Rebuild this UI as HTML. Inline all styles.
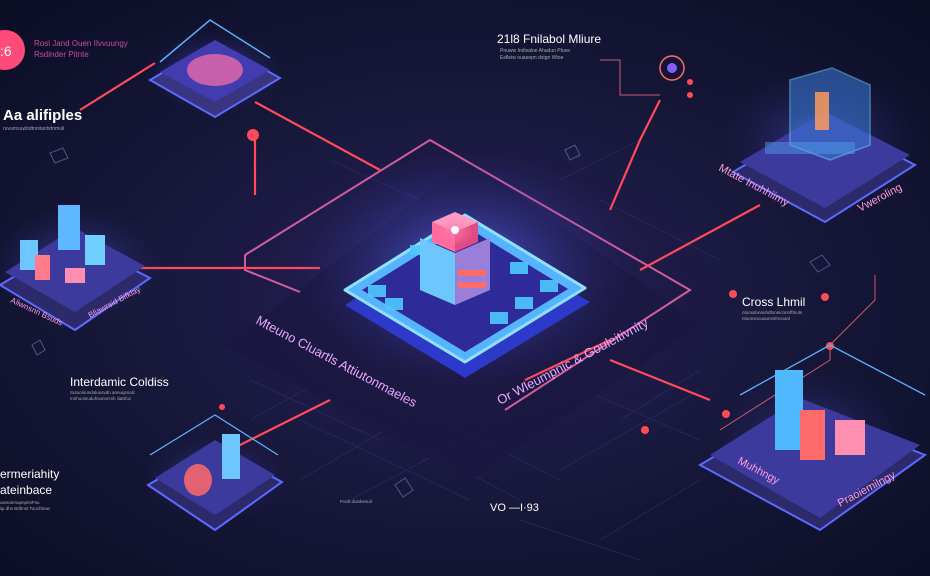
<!DOCTYPE html>
<html><head><meta charset="utf-8"><style>
html,body{margin:0;padding:0;background:#101130;}
svg{display:block;font-family:"Liberation Sans",sans-serif;}
</style></head><body>
<svg width="930" height="576" viewBox="0 0 930 576" xmlns="http://www.w3.org/2000/svg">
<defs>
<radialGradient id="bg" cx="50%" cy="52%" r="70%"><stop offset="0" stop-color="#27205a"/><stop offset="0.55" stop-color="#161738"/><stop offset="1" stop-color="#0c0e26"/></radialGradient>
<radialGradient id="glow" cx="50%" cy="50%" r="50%"><stop offset="0" stop-color="#9aa8ff" stop-opacity="0.9"/><stop offset="0.4" stop-color="#5b63ff" stop-opacity="0.35"/><stop offset="1" stop-color="#3a2f9a" stop-opacity="0"/></radialGradient>
<radialGradient id="pglow" cx="50%" cy="50%" r="50%"><stop offset="0" stop-color="#ff7aa8" stop-opacity="0.8"/><stop offset="1" stop-color="#ff7aa8" stop-opacity="0"/></radialGradient>
</defs>
<rect width="930" height="576" fill="url(#bg)"/>
<g stroke="#2d2f6e" stroke-width="1" opacity="0.6">
<path d="M300 420 L470 500 M330 400 L520 500 M360 380 L560 480 M560 380 L700 440 M250 380 L380 440 M600 200 L720 260 M330 160 L420 200 M520 520 L640 560 M270 330 L350 370"/>
<path d="M300 480 L470 380 M350 500 L520 410 M560 470 L700 390 M250 420 L340 370 M620 420 L700 370 M560 180 L640 140 M600 540 L700 480"/>
</g>
<polygon points="225,345 470,160 700,325 470,480" fill="#1a1840" opacity="0.8"/>
<path d="M245 255 L430 140 L690 290 L505 410" fill="none" stroke="#ff6fb3" stroke-width="2" opacity="0.8"/>
<path d="M245 255 L245 270 L300 292" fill="none" stroke="#ff6fb3" stroke-width="2" opacity="0.8"/>
<g stroke="#ff4a5a" stroke-width="2.2" fill="none">
<path d="M80 110 L155 63"/>
<path d="M255 102 L380 170"/>
<path d="M130 268 L320 268"/>
<path d="M230 450 L330 400"/>
<path d="M610 210 L640 140 L660 100"/>
<path d="M640 270 L760 205"/>
<path d="M610 360 L710 400"/>
<path d="M525 380 L610 340"/>
<path d="M255 135 L255 195"/>
</g>
<g stroke="#ff6a78" stroke-width="1" fill="none" opacity="0.8">
<path d="M600 60 L620 60 L620 95 L660 95"/>
<path d="M830 345 L875 300 L875 275"/>
<path d="M830 345 L830 360 L720 430"/>
</g>
<g fill="#ff4a5a">
<circle cx="253" cy="135" r="6"/><circle cx="825" cy="297" r="4"/><circle cx="830" cy="346" r="4"/>
<circle cx="733" cy="294" r="4"/><circle cx="726" cy="414" r="4"/><circle cx="645" cy="430" r="4"/>
<circle cx="222" cy="407" r="3"/><circle cx="690" cy="82" r="3"/><circle cx="690" cy="95" r="3"/>
</g>
<ellipse cx="465" cy="270" rx="170" ry="120" fill="url(#glow)"/>
<polygon points="345,305 465,230 590,302 465,378" fill="#2d39c8"/>
<polygon points="345,290 465,215 585,288 465,362" fill="#56b3ff" stroke="#8fe1ff" stroke-width="3" stroke-linejoin="round"/>
<polygon points="362,290 465,226 568,289 465,352" fill="#2f2a9a"/>
<g fill="#4fc9ff" opacity="0.9">
<rect x="368" y="285" width="18" height="12"/><rect x="385" y="298" width="18" height="12"/>
<rect x="510" y="262" width="18" height="12"/><rect x="540" y="280" width="18" height="12"/>
<rect x="515" y="297" width="18" height="12"/><rect x="490" y="312" width="18" height="12"/>
<rect x="410" y="245" width="14" height="10"/>
</g>
<polygon points="420,238 455,253 455,305 420,290" fill="#6ec6ff"/>
<polygon points="455,253 490,238 490,290 455,305" fill="#9a7fd8"/>
<rect x="458" y="270" width="28" height="6" fill="#ff6a6a"/><rect x="458" y="282" width="28" height="6" fill="#ff6a6a"/>
<polygon points="432,222 455,232 455,252 432,242" fill="#ff6b9b"/>
<polygon points="455,232 478,222 478,242 455,252" fill="#e04a83"/>
<polygon points="432,222 455,212 478,222 455,232" fill="#ff9ac0"/>
<ellipse cx="455" cy="232" rx="18" ry="14" fill="url(#pglow)"/>
<circle cx="455" cy="230" r="4" fill="#fff"/>
<text x="255" y="323" fill="#e8a8ff" font-size="13" transform="rotate(28 255 323)">Mteuno Cluartls Attiutonmaeles</text>
<text x="500" y="405" fill="#e8a8ff" font-size="13" transform="rotate(-28 500 405)">Or Wleumpnic &amp; Gouleitivnity</text>
<ellipse cx="215" cy="72" rx="70" ry="42" fill="url(#glow)" opacity="0.7"/>
<polygon points="150,80 215,42 280,78 215,117" fill="#3a3580" stroke="#5c6aff" stroke-width="2"/>
<polygon points="160,72 215,40 270,70 215,102" fill="#433cb0"/>
<ellipse cx="215" cy="70" rx="28" ry="16" fill="#ff6fa8" opacity="0.7"/>
<path d="M160 62 L210 20 L270 58" fill="none" stroke="#5ab0ff" stroke-width="1.5"/>
<ellipse cx="75" cy="265" rx="90" ry="60" fill="url(#glow)" opacity="0.6"/>
<polygon points="0,285 75,240 150,278 75,330" fill="#2c2a6a" stroke="#5c6aff" stroke-width="2"/>
<polygon points="5,272 75,228 145,266 75,312" fill="#3d3a9e"/>
<rect x="58" y="205" width="22" height="45" fill="#5fb8ff"/><rect x="20" y="240" width="18" height="30" fill="#6ec6ff"/>
<rect x="35" y="255" width="15" height="25" fill="#ff7a8a"/><rect x="85" y="235" width="20" height="30" fill="#6fd0ff"/>
<rect x="65" y="268" width="20" height="15" fill="#ff8fb0"/>
<text x="10" y="302" fill="#ff9ce0" font-size="8" transform="rotate(25 10 302)">Aliwnsnn Bsuds</text>
<text x="90" y="318" fill="#ff9ce0" font-size="8" transform="rotate(-28 90 318)">Bliawrsid Bifklay</text>
<ellipse cx="215" cy="478" rx="75" ry="45" fill="url(#glow)" opacity="0.5"/>
<polygon points="148,485 215,446 282,482 215,530" fill="#2c2a6a" stroke="#5c6aff" stroke-width="2"/>
<polygon points="155,478 215,440 275,475 215,515" fill="#3d3a9e"/>
<rect x="222" y="434" width="18" height="45" fill="#6ec6ff"/>
<ellipse cx="198" cy="480" rx="14" ry="16" fill="#ff6a6a" opacity="0.85"/>
<path d="M150 455 L215 415 L278 455" fill="none" stroke="#5ab0ff" stroke-width="1.3"/>
<ellipse cx="820" cy="140" rx="100" ry="75" fill="url(#glow)" opacity="0.5"/>
<polygon points="733,172 825,118 915,165 825,222" fill="#2c2a6a" stroke="#5c6aff" stroke-width="2"/>
<polygon points="740,162 825,112 910,155 825,208" fill="#3d3a9e"/>
<polygon points="790,80 832,68 870,85 870,145 830,160 790,145" fill="#3a7ad8" opacity="0.55" stroke="#6fd0ff" stroke-width="1.5"/>
<rect x="815" y="92" width="14" height="38" fill="#ff9a5a" opacity="0.85"/>
<rect x="765" y="142" width="90" height="12" fill="#4f9ae8" opacity="0.5"/>
<text x="718" y="170" fill="#ff9ce0" font-size="11" transform="rotate(28 718 170)">Mtate Inuhhiimy</text>
<text x="860" y="212" fill="#ff9ce0" font-size="11" transform="rotate(-28 860 212)">Vweroling</text>
<ellipse cx="810" cy="445" rx="100" ry="75" fill="url(#glow)" opacity="0.5"/>
<polygon points="700,465 800,405 925,455 820,530" fill="#2c2a6a" stroke="#5c6aff" stroke-width="2"/>
<polygon points="710,455 800,398 920,445 820,518" fill="#3d3a9e"/>
<rect x="775" y="370" width="28" height="80" fill="#4fb8ff"/>
<rect x="800" y="410" width="25" height="50" fill="#ff6a6a"/>
<rect x="835" y="420" width="30" height="35" fill="#ff8fb0"/>
<text x="737" y="463" fill="#ff9ce0" font-size="11" transform="rotate(28 737 463)">Muhhngy</text>
<text x="840" y="507" fill="#ff9ce0" font-size="11" transform="rotate(-28 840 507)">Praoiemilngy</text>
<path d="M740 395 L830 345 L925 395" fill="none" stroke="#5ab0ff" stroke-width="1.3"/>
<circle cx="5" cy="50" r="20" fill="#ff4a7a"/>
<text x="0" y="56" fill="#fff" font-size="14">:6</text>
<text x="34" y="46" fill="#c94aa0" font-size="8">Rosl Jand Ouen IIvvuungy</text>
<text x="34" y="57" fill="#c94aa0" font-size="8">Rsdinder Pitnte</text>
<text x="3" y="120" fill="#fff" font-size="15" font-weight="bold">Aa alifiples</text>
<text x="3" y="130" fill="#9aa0d0" font-size="5">ruvurnsuwbdtnnitanhdnmuli</text>
<text x="497" y="43" fill="#fff" font-size="12">21l8 Fnilabol Mliure</text>
<text x="500" y="52" fill="#aaa" font-size="5">Pnuww Indisaloe Ahudun Ptuve</text>
<text x="500" y="59" fill="#aaa" font-size="5">Esfleiw ouaeepn dstgn Wtoe</text>
<circle cx="672" cy="68" r="12" fill="none" stroke="#ff6a6a" stroke-width="1.5"/><circle cx="672" cy="68" r="5" fill="#8a5bff"/>
<text x="742" y="306" fill="#fff" font-size="12">Cross Lhmil</text>
<text x="742" y="314" fill="#aaa" font-size="4.5">ntoosdnnnuhdtnnnicnnnfftnuln</text>
<text x="742" y="320" fill="#aaa" font-size="4.5">ntoonsnouaunsnfnnnanl</text>
<text x="70" y="386" fill="#fff" font-size="12">Interdamic Coldiss</text>
<text x="70" y="394" fill="#aaa" font-size="4.5">Sutuoinundoluosvdn annuqsnalc</text>
<text x="70" y="400" fill="#aaa" font-size="4.5">mnhuoinuduhsunnrcsh iiiaSfoc</text>
<text x="0" y="478" fill="#fff" font-size="12">ermeriahity</text>
<text x="0" y="494" fill="#fff" font-size="12">ateinbace</text>
<text x="0" y="504" fill="#aaa" font-size="4.5">uwnanmupnpnnFsu</text>
<text x="0" y="510" fill="#aaa" font-size="4.5">iip dhs Bdhnst Touchbow</text>
<text x="490" y="511" fill="#fff" font-size="11">VO —I·93</text>
<text x="340" y="503" fill="#aaa" font-size="4.5">Ponlt duinbesuil</text>
<g stroke="#6a6fb0" fill="none" stroke-width="1" opacity="0.7">
<path d="M50 153 L63 148 L68 158 L55 163 Z"/><path d="M32 345 L40 340 L45 350 L37 355 Z"/>
<path d="M395 485 L405 478 L413 490 L403 497 Z"/><path d="M565 150 L575 145 L580 155 L570 160 Z"/>
<path d="M810 262 L822 255 L830 265 L818 272 Z"/>
</g>
</svg>
</body></html>
